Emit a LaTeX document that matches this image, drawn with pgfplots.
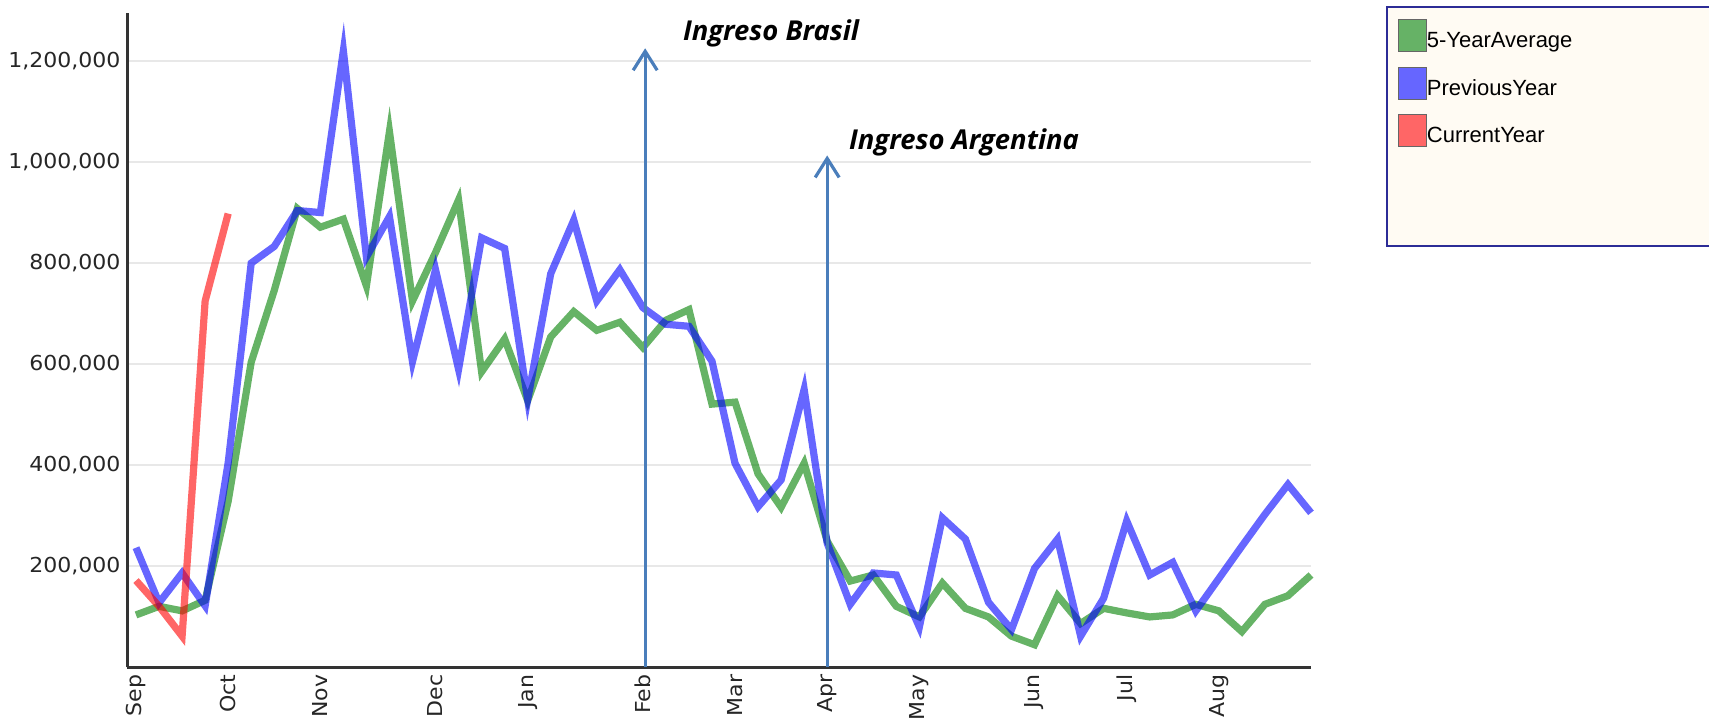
\documentclass[border=0pt]{standalone}
\usepackage{pgfplots}
\usepackage{pgfplotstable}
\pgfplotsset{compat=1.18}
\usetikzlibrary{arrows.meta}
\usepackage{fontspec}
\setmainfont{DejaVu Sans}
\newfontfamily\tickfont[FakeStretch=1.07]{DejaVu Sans}
\newfontfamily\legfont{Liberation Sans}
\newfontfamily\annfont{Open Sans}
\definecolor{gline}{RGB}{0,128,0}
\definecolor{bline}{RGB}{0,0,255}
\definecolor{rline}{RGB}{255,0,0}
\definecolor{gleg}{RGB}{102,178,102}
\definecolor{bleg}{RGB}{102,102,255}
\definecolor{rleg}{RGB}{255,102,102}
\definecolor{arrowblue}{RGB}{74,126,187}
\definecolor{legborder}{RGB}{44,44,150}
\definecolor{legfill}{RGB}{255,251,243}
\definecolor{gridc}{RGB}{232,232,232}

\pgfplotstableread{
x five prev
0 104000 237000
1 121000 128000
2 112000 187000
3 133000 122000
4 329000 405000
5 604000 800000
6 746000 833000
7 908000 904000
8 871000 900000
9 887000 1220000
10 755000 812000
11 1060000 892000
12 725000 605000
13 821000 787000
14 925000 590000
15 585000 850000
16 650000 829000
17 528000 530000
18 654000 779000
19 704000 885000
20 667000 725000
21 683000 787000
22 633000 712000
23 687000 679000
24 708000 675000
25 521000 606000
26 525000 404000
27 383000 318000
28 317000 371000
29 404000 550000
30 250000 246000
31 171000 125000
32 183000 187000
33 121000 183000
34 100000 80000
35 167000 296000
36 117000 254000
37 100000 129000
38 62000 75000
39 45000 196000
40 142000 254000
41 87000 62000
42 117000 137000
43 108000 290000
44 100000 183000
45 104000 208000
46 125000 112000
47 112000 176000
48 71000 240000
49 125000 303000
50 142000 362000
51 183000 306000
}\datatable

\pgfplotstableread{
x cur
0 172000
1 121000
2 62000
3 725000
4 898000
}\curtable

\begin{document}
\begin{tikzpicture}[x=0.5pt,y=0.5pt]
\path[use as bounding box] (0,0) rectangle (1709,721);
\draw[legborder, line width=1pt, fill=legfill] (1387.3,713.7) rectangle (1730,475.3);
\begin{axis}[
  at={(63.75pt,26.75pt)}, anchor=south west,
  scale only axis, width=591.75pt, height=327.3pt,
  xmin=-0.37, xmax=51, ymin=0, ymax=1295000,
  axis x line*=bottom, axis y line*=left,
  axis line style={black!80, line width=1.1pt},
  xtick={0,4,8,13,17,22,26,30,34,39,43,47},
  xticklabels={Sep,Oct,Nov,Dec,Jan,Feb,Mar,Apr,May,Jun,Jul,Aug},
  ytick={200000,400000,600000,800000,1000000,1200000},
  scaled y ticks=false,
  yticklabel style={/pgf/number format/fixed, /pgf/number format/1000 sep={,}, /pgf/number format/assume math mode=true},
  major tick length=0pt,
  ymajorgrids, grid style={gridc, line width=0.9pt},
  tick label style={font=\tickfont\fontsize{10.3}{12}\selectfont, text=black!85},
  xticklabel style={rotate=90, anchor=east},
  clip=false,
  legend cell align=left,
  legend style={at={(axis description cs:1.07326,0.99022)}, anchor=north west,
    draw=none, fill=none, inner sep=0pt, outer sep=0pt, row sep=7.1pt,
    font=\legfont\fontsize{11}{13}\selectfont, nodes={inner sep=0pt}},
]
\addplot[gline, draw opacity=0.6, line width=3.6pt, line join=miter,
  legend image code/.code={\draw[draw=black!60, draw opacity=1, line width=0.6pt, fill=gleg] (0pt,-5pt) rectangle (14pt,11pt);}]
  table[x=x, y=five] {\datatable};
\addlegendentry{5-YearAverage}
\addplot[bline, draw opacity=0.6, line width=3.6pt, line join=miter,
  legend image code/.code={\draw[draw=black!60, draw opacity=1, line width=0.6pt, fill=bleg] (0pt,-5pt) rectangle (14pt,11pt);}]
  table[x=x, y=prev] {\datatable};
\addlegendentry{PreviousYear}
\addplot[rline, draw opacity=0.6, line width=3.6pt, line join=miter,
  legend image code/.code={\draw[draw=black!60, draw opacity=1, line width=0.6pt, fill=rleg] (0pt,-5pt) rectangle (14pt,11pt);}]
  table[x=x, y=cur] {\curtable};
\addlegendentry{CurrentYear}
\addplot[arrowblue, line width=1.6pt, -{Straight Barb[length=9.5pt, width=12pt]}, forget plot]
  coordinates {(22.1,0) (22.1,1225000)};
\addplot[arrowblue, line width=1.6pt, -{Straight Barb[length=9.5pt, width=12pt]}, forget plot]
  coordinates {(30,0) (30,1013000)};
\end{axis}
\node[anchor=base west, inner sep=0pt, font=\annfont\bfseries\itshape\fontsize{13.7}{16}\selectfont] at (682.6,680.5) {Ingreso Brasil};
\node[anchor=base west, inner sep=0pt, font=\annfont\bfseries\itshape\fontsize{13.7}{16}\selectfont] at (848.7,571.6) {Ingreso Argentina};
\end{tikzpicture}
\end{document}
